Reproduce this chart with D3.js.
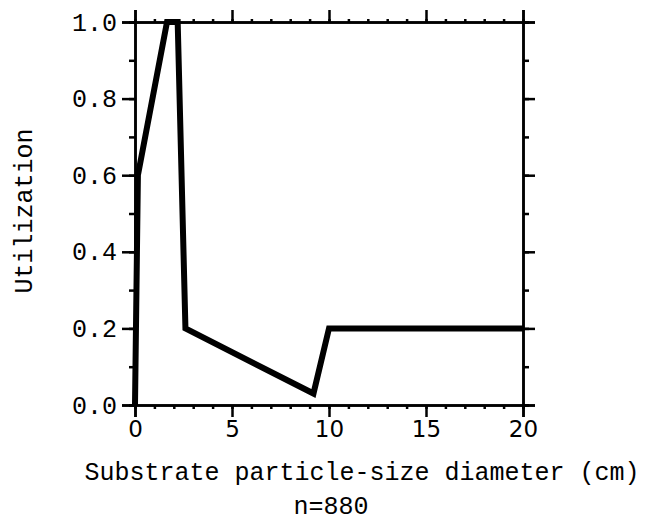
<!DOCTYPE html>
<html><head><meta charset="utf-8">
<script src="https://cdn.jsdelivr.net/npm/d3@7"></script>
<style>
html,body{margin:0;padding:0;background:#fff;}
svg{display:block;}
</style></head>
<body>
<svg id="c" width="665" height="521"></svg>
<script>
// Data
const diameter = [0, 0.15, 1.65, 2.2, 2.6, 9.2, 10.0, 20];
const utilization = [0, 0.6, 1.0, 1.0, 0.2, 0.03, 0.2, 0.2];
const xTicks = [0, 5, 10, 15, 20];
const xMinor = d3.range(0, 21, 1);
const yTicks = [0, 0.2, 0.4, 0.6, 0.8, 1.0];
const yMinor = d3.range(0, 11, 1).map(d => d / 10);
const xTitle = "Substrate particle-size diameter (cm)";
const nLabel = "n=880";
const yTitle = "Utilization";

const svg = d3.select("#c");
const L = 135, R = 523, T = 22, B = 405;
const x = d3.scaleLinear().domain([0, 20]).range([L, R]);
const y = d3.scaleLinear().domain([0, 1]).range([B, T]);

const mono = "'Liberation Mono', 'DejaVu Sans Mono', monospace";
const sans = "'DejaVu Sans', sans-serif";

function styleAxis(g, w) {
  g.select(".domain").attr("stroke", "#000").attr("stroke-width", w);
  g.selectAll(".tick line").attr("stroke", "#000").attr("stroke-width", w);
}

// minor ticks
svg.append("g").attr("transform", `translate(0,${B})`)
  .call(d3.axisBottom(x).tickValues(xMinor).tickSize(4).tickFormat(""))
  .call(g => styleAxis(g, 2.5));
svg.append("g").attr("transform", `translate(0,${T})`)
  .call(d3.axisTop(x).tickValues(xMinor).tickSizeInner(3).tickSizeOuter(0).tickFormat(""))
  .call(g => styleAxis(g, 2.5));
svg.append("g").attr("transform", `translate(${L},0)`)
  .call(d3.axisLeft(y).tickValues(yMinor).tickSize(6).tickFormat(""))
  .call(g => styleAxis(g, 2.5));
svg.append("g").attr("transform", `translate(${R},0)`)
  .call(d3.axisRight(y).tickValues(yMinor).tickSize(6).tickFormat(""))
  .call(g => styleAxis(g, 2.5));

// major ticks
const xb = svg.append("g").attr("transform", `translate(0,${B})`)
  .call(d3.axisBottom(x).tickValues(xTicks).tickSize(12).tickPadding(4).tickFormat(d3.format("d")))
  .call(g => styleAxis(g, 2.5));
xb.selectAll("text").attr("font-family", sans).attr("font-size", 23).attr("fill", "#000");
svg.append("g").attr("transform", `translate(0,${T})`)
  .call(d3.axisTop(x).tickValues(xTicks).tickSize(12).tickFormat(""))
  .call(g => styleAxis(g, 2.5));
const yl = svg.append("g").attr("transform", `translate(${L},0)`)
  .call(d3.axisLeft(y).tickValues(yTicks).tickSize(13).tickPadding(5).tickFormat(d3.format(".1f")))
  .call(g => styleAxis(g, 2.5));
yl.selectAll("text").attr("font-family", mono).attr("font-size", 25).attr("fill", "#000");
svg.append("g").attr("transform", `translate(${R},0)`)
  .call(d3.axisRight(y).tickValues(yTicks).tickSize(12).tickFormat(""))
  .call(g => styleAxis(g, 2.5));

// data line
const pts = diameter.map((d, i) => [d, utilization[i]]);
svg.append("path")
  .datum(pts)
  .attr("d", d3.line().x(d => x(d[0])).y(d => y(d[1])))
  .attr("fill", "none").attr("stroke", "#000").attr("stroke-width", 6)
  .attr("stroke-linejoin", "miter").attr("stroke-miterlimit", 3);

// titles
svg.append("text").attr("x", 362).attr("y", 480).attr("text-anchor", "middle")
  .attr("font-family", mono).attr("font-size", 25).text(xTitle);
svg.append("text").attr("x", 331).attr("y", 514).attr("text-anchor", "middle")
  .attr("font-family", mono).attr("font-size", 25).text(nLabel);
svg.append("text").attr("transform", "translate(32,211) rotate(-90)").attr("text-anchor", "middle")
  .attr("font-family", mono).attr("font-size", 25).text(yTitle);
</script>
</body></html>
